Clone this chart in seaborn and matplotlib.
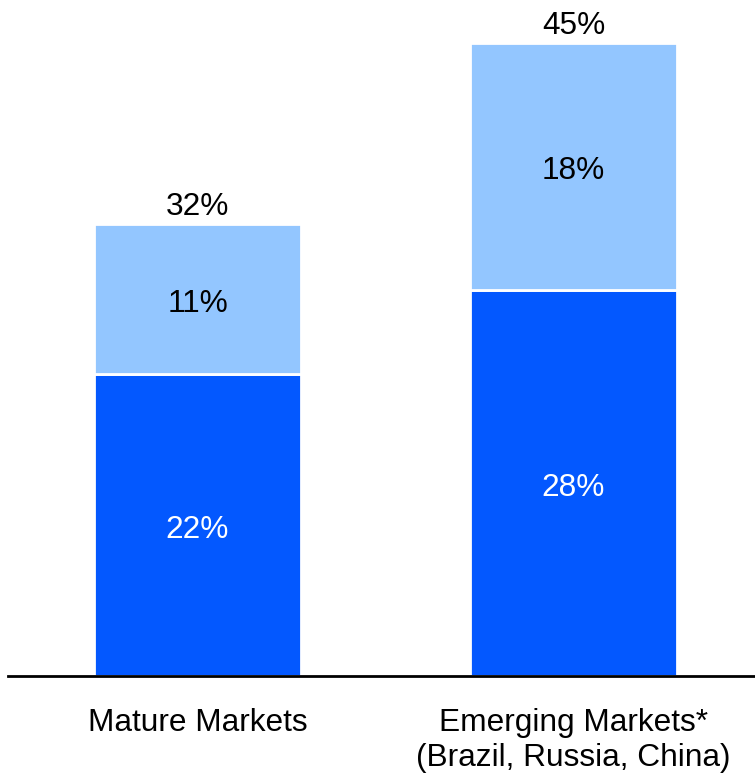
import matplotlib
matplotlib.use("Agg")
import matplotlib.pyplot as plt
import seaborn as sns
import pandas as pd

categories = ["Mature Markets", "Emerging Markets*\n(Brazil, Russia, China)"]
base_share = [21.6, 27.6]
added_share = [10.7, 17.6]

dark_blue = "#0358FF"
light_blue = "#93C6FF"

sns.set_theme(style="white")
plt.rcParams["font.family"] = ["Liberation Sans", "DejaVu Sans"]

df = pd.DataFrame({"market": categories, "base": base_share, "added": added_share})
df["total"] = df["base"] + df["added"]

W, H = 755, 775
fig = plt.figure(figsize=(W / 100, H / 100), dpi=100)
base_y = 676
ax = fig.add_axes([8 / W, 1 - base_y / H, 1 - 8 / W, base_y / H])

px_per_unit = 14.0
bar_w = 207 / 376

sns.barplot(data=df, x="market", y="base", color=dark_blue, width=bar_w,
            saturation=1, edgecolor="white", linewidth=2, ax=ax)
sns.barplot(data=df, x="market", y="added", bottom=df["base"], color=light_blue,
            width=bar_w, saturation=1, edgecolor="white", linewidth=2, ax=ax)

ax.set_xlim(-(197.5 - 8) / 376, 1 + (755 - 573.5) / 376)
ax.set_ylim(0, base_y / px_per_unit)

fs = 22.8
shift = 0.35  # nudge labels slightly below the segment midpoint
for i, row in df.iterrows():
    ax.text(i, row["base"] / 2 - shift, f"{round(row['base'])}%", ha="center",
            va="center", color="white", fontsize=fs)
    ax.text(i, row["base"] + row["added"] / 2 - shift, f"{round(row['added'])}%",
            ha="center", va="center", color="black", fontsize=fs)
    ax.text(i, row["total"] + 0.15, f"{round(row['total'])}%", ha="center",
            va="bottom", color="black", fontsize=fs)

ax.set_xlabel("")
ax.set_ylabel("")
ax.set_yticks([])
ax.tick_params(axis="x", length=0, pad=23, labelsize=fs, labelcolor="black")
for lbl in ax.get_xticklabels():
    lbl.set_linespacing(1.2)
for side in ["top", "right", "left"]:
    ax.spines[side].set_visible(False)
ax.spines["bottom"].set_color("black")
ax.spines["bottom"].set_linewidth(2)
ax.patch.set_alpha(0)

fig.savefig("out.png", dpi=100)
